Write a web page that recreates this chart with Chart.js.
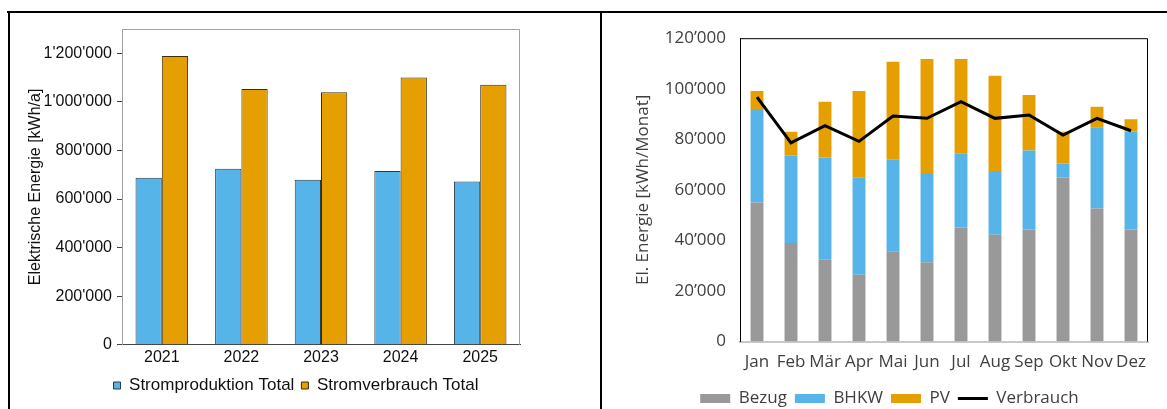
<!DOCTYPE html>
<html>
<head>
<meta charset="utf-8">
<script src="https://cdn.jsdelivr.net/npm/chart.js@4.4.1/dist/chart.umd.min.js"></script>
<style>
  html, body { margin: 0; padding: 0; background: #fff; }
  body { width: 1167px; height: 409px; position: relative; overflow: hidden; }
  .rahmen { position: absolute; background: #000; }
  canvas { position: absolute; }
</style>
</head>
<body>
<div class="rahmen" style="left:7px; top:11px; width:1160px; height:2px;"></div>
<div class="rahmen" style="left:8px; top:11px; width:2px; height:398px;"></div>
<div class="rahmen" style="left:600px; top:11px; width:2px; height:398px;"></div>
<canvas id="jahre" width="590" height="395" style="left:10px; top:14px;"></canvas>
<canvas id="monate" width="565" height="403" style="left:602px; top:14px;"></canvas>
<script>
// Jahreswerte Stromproduktion / Stromverbrauch
const jahre = ['2021', '2022', '2023', '2024', '2025'];
const stromproduktion = [688000, 725000, 679000, 715000, 672000];
const stromverbrauch = [1189000, 1053000, 1040000, 1100000, 1071000];
const jahrTicks = [0, 200000, 400000, 600000, 800000, 1000000, 1200000];

// Monatswerte
const monate = ['Jan', 'Feb', 'Mär', 'Apr', 'Mai', 'Jun', 'Jul', 'Aug', 'Sep', 'Okt', 'Nov', 'Dez'];
const bezug = [55000, 39000, 32400, 26400, 35700, 31400, 45100, 42300, 44300, 64900, 52600, 44300];
const bhkw = [37000, 34600, 40400, 38400, 36200, 35300, 29200, 25200, 31300, 5500, 32000, 38800];
const pv = [7100, 9400, 22100, 34300, 38800, 45100, 37500, 37600, 21900, 12600, 8300, 4800];
const verbrauch = [96700, 78600, 85400, 79200, 89200, 88300, 94900, 88300, 89600, 81700, 88300, 83400];
const monatTicks = [0, 20000, 40000, 60000, 80000, 100000, 120000];

function tausender(v, zeichen) {
  return String(v).replace(/\B(?=(\d{3})+(?!\d))/g, zeichen);
}

// Rahmen um die Zeichenfläche (oben, rechts, links)
const rahmenPlugin = {
  id: 'rahmen',
  beforeDatasetsDraw(chart, args, opts) {
    const a = chart.chartArea;
    const c = chart.ctx;
    c.save();
    c.strokeStyle = opts.color;
    c.lineWidth = 1;
    c.beginPath();
    c.moveTo(a.left + 0.5, a.bottom);
    c.lineTo(a.left + 0.5, a.top + 0.5);
    c.lineTo(a.right - 0.5, a.top + 0.5);
    c.lineTo(a.right - 0.5, a.bottom);
    c.stroke();
    c.restore();
  }
};

const arial = 'Liberation Sans, Arial, sans-serif';

new Chart(document.getElementById('jahre'), {
  type: 'bar',
  data: {
    labels: jahre,
    datasets: [
      { label: 'Stromproduktion Total', data: stromproduktion, backgroundColor: '#56B4E9', borderColor: '#2b3a44', borderWidth: 1 },
      { label: 'Stromverbrauch Total', data: stromverbrauch, backgroundColor: '#E69F00', borderColor: '#3a2e10', borderWidth: 1 }
    ]
  },
  options: {
    responsive: false,
    animation: false,
    categoryPercentage: 0.66,
    barPercentage: 1,
    layout: { padding: { left: 16, right: 34, top: 15, bottom: 5 } },
    plugins: {
      rahmen: { color: '#a0a0a0' },
      tooltip: { enabled: false },
      legend: {
        position: 'bottom',
        labels: { boxWidth: 7, boxHeight: 7, padding: 7, color: '#111', font: { family: arial, size: 17 } }
      }
    },
    scales: {
      x: {
        grid: { display: false, drawTicks: false },
        border: { color: '#444', width: 1 },
        ticks: { color: '#111', padding: 3, font: { family: arial, size: 16 } }
      },
      y: {
        min: 0,
        max: 1300000,
        afterBuildTicks: s => { s.ticks = jahrTicks.map(v => ({ value: v })); },
        afterFit: s => { s.width = 96; },
        grid: { drawOnChartArea: false, drawTicks: true, tickLength: 5, color: '#444' },
        border: { color: '#a0a0a0' },
        ticks: { color: '#111', padding: 5, font: { family: arial, size: 16 }, callback: v => tausender(v, "'") },
        title: { display: true, text: 'Elektrische Energie [kWh/a]', color: '#111', padding: 0, font: { family: arial, size: 16 } }
      },
      // leerer Platz rechts der Zeichenfläche
      rechts: {
        type: 'linear',
        position: 'right',
        min: 0,
        max: 1,
        afterFit: s => { s.width = 46; },
        grid: { display: false },
        border: { display: false },
        ticks: { display: false }
      }
    }
  },
  plugins: [rahmenPlugin]
});

const segoe = 'Open Sans, Noto Sans, sans-serif';

new Chart(document.getElementById('monate'), {
  type: 'bar',
  data: {
    labels: monate,
    datasets: [
      { label: 'Bezug', data: bezug, backgroundColor: '#999999', stack: 'e' },
      { label: 'BHKW', data: bhkw, backgroundColor: '#56B4E9', stack: 'e' },
      { label: 'PV', data: pv, backgroundColor: '#E69F00', stack: 'e' },
      { type: 'line', label: 'Verbrauch', data: verbrauch, borderColor: '#000', backgroundColor: '#000', borderWidth: 3, pointRadius: 0, tension: 0, stack: 'v', order: -1 }
    ]
  },
  options: {
    responsive: false,
    animation: false,
    categoryPercentage: 0.38,
    barPercentage: 1,
    layout: { padding: { left: 29, right: 19, top: 15, bottom: 0 } },
    plugins: {
      rahmen: { color: '#000' },
      tooltip: { enabled: false },
      legend: {
        position: 'bottom',
        labels: {
          usePointStyle: true,
          pointStyleWidth: 30,
          boxHeight: 9,
          padding: 8,
          color: '#404040',
          font: { family: segoe, size: 17 },
          sort: (a, b) => a.datasetIndex - b.datasetIndex,
          generateLabels: chart => Chart.defaults.plugins.legend.labels.generateLabels(chart).map(l => {
            const ds = chart.data.datasets[l.datasetIndex];
            l.pointStyle = ds.type === 'line' ? 'line' : 'rect';
            l.lineWidth = ds.type === 'line' ? 3 : 0;
            return l;
          })
        }
      }
    },
    scales: {
      x: {
        stacked: true,
        grid: { display: false, drawTicks: false },
        border: { color: '#c8c8c8', width: 2 },
        ticks: { color: '#404040', padding: 10, maxRotation: 0, autoSkip: false, font: { family: segoe, size: 17 } }
      },
      y: {
        stacked: true,
        min: 0,
        max: 120000,
        afterBuildTicks: s => { s.ticks = monatTicks.map(v => ({ value: v })); },
        afterFit: s => { s.width = 109; },
        grid: { display: false, drawTicks: false },
        border: { color: '#000' },
        ticks: { color: '#404040', padding: 14, font: { family: segoe, size: 17 }, callback: v => tausender(v, '\u2019') },
        title: { display: true, text: 'El. Energie [kWh/Monat]', color: '#404040', padding: 2, font: { family: segoe, size: 17 } }
      }
    }
  },
  plugins: [rahmenPlugin]
});
</script>
</body>
</html>
